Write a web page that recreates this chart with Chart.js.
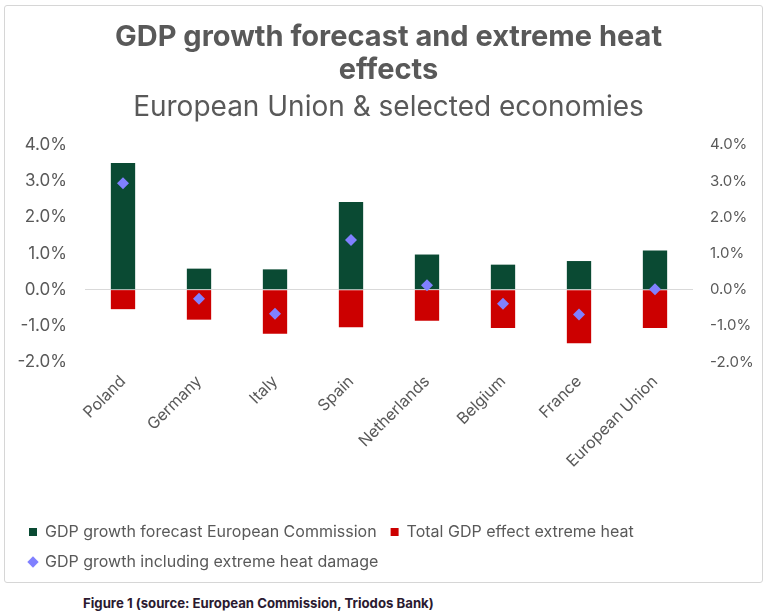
<!DOCTYPE html>
<html>
<head>
<meta charset="utf-8">
<script src="https://cdn.jsdelivr.net/npm/chart.js@4"></script>
<style>
  body { margin: 0; background: #fff; }
  #box {
    position: absolute; left: 4px; top: 5px; width: 757px; height: 576px;
    border: 1px solid #d6d6d6; border-radius: 3px;
  }
  #caption {
    position: absolute; left: 83px; top: 595px;
    font: bold 13.2px Inter, sans-serif; color: #2b1a30;
  }
</style>
</head>
<body>
<div id="box"><canvas id="gdpChart" width="757" height="576"></canvas></div>
<div id="caption">Figure 1 (source: European Commission, Triodos Bank)</div>
<script>
const countries = ["Poland", "Germany", "Italy", "Spain", "Netherlands", "Belgium", "France", "European Union"];
const forecastEC = [3.5, 0.58, 0.56, 2.42, 0.97, 0.69, 0.79, 1.08];
const heatEffect = [-0.54, -0.83, -1.22, -1.04, -0.86, -1.06, -1.48, -1.06];
const growthWithHeat = [2.94, -0.25, -0.67, 1.37, 0.12, -0.39, -0.69, 0.01];

const grey = "#595959";
const pct = v => v.toFixed(1) + "%";

new Chart(document.getElementById("gdpChart"), {
    type: "bar",
    data: {
        labels: countries,
        datasets: [
            {
                label: "GDP growth forecast European Commission",
                data: forecastEC,
                backgroundColor: "#0a4a33",
                pointStyle: "rect",
                grouped: false,
                barPercentage: 0.32,
                categoryPercentage: 1,
                order: 2
            },
            {
                label: "Total GDP effect extreme heat",
                data: heatEffect,
                backgroundColor: "#cc0000",
                pointStyle: "rect",
                grouped: false,
                barPercentage: 0.32,
                categoryPercentage: 1,
                order: 2
            },
            {
                type: "line",
                label: "GDP growth including extreme heat damage",
                data: growthWithHeat,
                showLine: false,
                pointStyle: "rectRot",
                pointRadius: 6,
                backgroundColor: "#8080ff",
                borderColor: "#8080ff",
                borderWidth: 0,
                order: 1
            }
        ]
    },
    options: {
        responsive: false,
        animation: false,
        layout: { padding: { left: 10, right: 0, top: 0, bottom: 2 } },
        plugins: {
            title: {
                display: true,
                text: ["GDP growth forecast and extreme heat", "effects"],
                color: grey,
                font: { family: "Inter", size: 29, weight: "bold", lineHeight: 1.16 },
                padding: { top: 14, bottom: 0 }
            },
            subtitle: {
                display: true,
                text: "European Union & selected economies",
                color: grey,
                font: { family: "Inter", size: 28, lineHeight: 1.2 },
                padding: { top: 3, bottom: 21 }
            },
            legend: {
                position: "bottom",
                align: "start",
                labels: {
                    usePointStyle: true,
                    boxWidth: 8,
                    boxHeight: 8,
                    padding: 14,
                    color: grey,
                    font: { family: "Inter", size: 16 },
                    sort: (a, b) => a.datasetIndex - b.datasetIndex
                }
            },
            tooltip: { enabled: false }
        },
        scales: {
            x: {
                grid: { display: false },
                border: { display: false },
                ticks: {
                    color: grey,
                    font: { family: "Inter", size: 16 },
                    minRotation: 45,
                    maxRotation: 45,
                    padding: 2
                },
                afterFit: s => { s.height = 148; }
            },
            y: {
                min: -2, max: 4,
                border: { display: false },
                grid: {
                    drawTicks: false,
                    color: c => c.tick.value === 0 ? "#d9d9d9" : "transparent"
                },
                ticks: {
                    stepSize: 1,
                    padding: 18,
                    color: grey,
                    font: { family: "Inter", size: 17 },
                    callback: pct
                },
                afterFit: s => { s.width = 70; }
            },
            y1: {
                position: "right",
                min: -2, max: 4,
                border: { display: false },
                grid: { display: false, drawTicks: false },
                ticks: {
                    stepSize: 1,
                    padding: 17,
                    color: grey,
                    font: { family: "Inter", size: 15 },
                    callback: pct
                },
                afterFit: s => { s.width = 69; }
            }
        }
    }
});
</script>
</body>
</html>
